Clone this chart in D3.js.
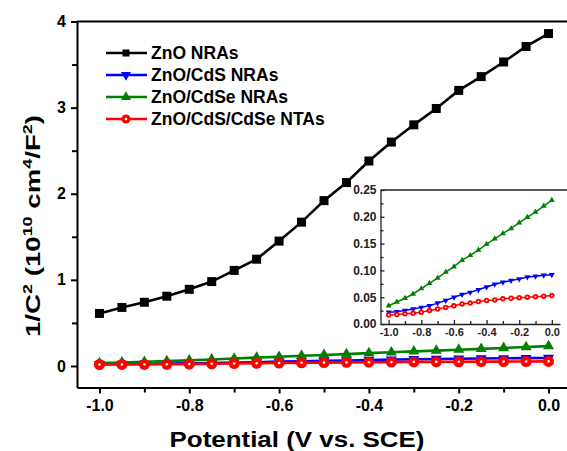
<!DOCTYPE html>
<html><head><meta charset="utf-8">
<script src="https://cdn.jsdelivr.net/npm/d3@7"></script>
<style>
body{margin:0;background:#fff}
text{font-family:Arial,"Liberation Sans",sans-serif;font-weight:bold}
</style>
</head><body><svg id="c" width="567" height="451"></svg>
<script>
const potential = [-1.0,-0.95,-0.9,-0.85,-0.8,-0.75,-0.7,-0.65,-0.6,-0.55,-0.5,-0.45,-0.4,-0.35,-0.3,-0.25,-0.2,-0.15,-0.1,-0.05,0.0];
const znoNRAs = [0.61,0.68,0.74,0.81,0.89,0.98,1.11,1.24,1.45,1.67,1.92,2.13,2.38,2.60,2.80,2.99,3.20,3.36,3.53,3.71,3.86];
const znoCdsNRAs = [0.022,0.023,0.025,0.028,0.031,0.034,0.039,0.044,0.050,0.055,0.059,0.064,0.069,0.074,0.078,0.081,0.084,0.0875,0.089,0.091,0.092];
const znoCdseNRAs = [0.034,0.041,0.048,0.056,0.066,0.076,0.086,0.097,0.107,0.119,0.128,0.138,0.149,0.159,0.169,0.178,0.189,0.199,0.209,0.220,0.231];
const znoCdsCdseNTAs = [0.017,0.0175,0.019,0.020,0.022,0.025,0.028,0.031,0.034,0.0375,0.039,0.042,0.044,0.045,0.047,0.048,0.049,0.050,0.051,0.052,0.053];
const seriesNames = ["ZnO NRAs","ZnO/CdS NRAs","ZnO/CdSe NRAs","ZnO/CdS/CdSe NTAs"];
const seriesColors = ["#000000","#0000ff","#008000","#ff0000"];
const seriesShapes = ["square","down","up","circle"];
const mainXTicks = [-1.0,-0.8,-0.6,-0.4,-0.2,0.0];
const mainXMinor = [-0.9,-0.7,-0.5,-0.3,-0.1];
const mainYTicks = [0,1,2,3,4];
const mainYMinor = [0.5,1.5,2.5,3.5];
const insetXTicks = [-1.0,-0.8,-0.6,-0.4,-0.2,0.0];
const insetXMinor = [-0.9,-0.7,-0.5,-0.3,-0.1];
const insetYTicks = [0,0.05,0.10,0.15,0.20,0.25];
const insetYMinor = [0.025,0.075,0.125,0.175,0.225];

const allSeries = [znoNRAs, znoCdsNRAs, znoCdseNRAs, znoCdsCdseNTAs].map((vals,i)=>({
  name: seriesNames[i], color: seriesColors[i], shape: seriesShapes[i],
  pts: potential.map((p,j)=>({x:p,y:vals[j]}))
}));

const svg = d3.select("#c");
const fmt1 = d => d.toFixed(1);
const fmt2 = d => d.toFixed(2);

function marker(g, shape, color, s, cx, cy, dot){
  if(shape==="square"){
    g.append("rect").attr("x",cx-s/2).attr("y",cy-s/2).attr("width",s).attr("height",s).attr("fill",color);
  } else if(shape==="up" || shape==="down"){
    const area = Math.sqrt(3)/4*s*s;
    g.append("path").attr("d",d3.symbol(d3.symbolTriangle,area)())
      .attr("transform",`translate(${cx},${cy})`+(shape==="down"?" rotate(180)":""))
      .attr("fill",color);
  } else {
    g.append("circle").attr("cx",cx).attr("cy",cy).attr("r",s/2).attr("fill",color);
    g.append("circle").attr("cx",cx).attr("cy",cy).attr("r",dot).attr("fill","#fff");
  }
}

// ---------- main chart ----------
const x = d3.scaleLinear().domain([-1.05,0.05]).range([77,571]);
const y = d3.scaleLinear().domain([-0.25,4]).range([387.5,21.5]);

const main = svg.append("g");
allSeries.forEach(s=>{
  const g = main.append("g");
  g.append("path").datum(s.pts)
    .attr("d",d3.line().x(d=>x(d.x)).y(d=>y(d.y)))
    .attr("fill","none").attr("stroke",s.color).attr("stroke-width",2.6);
  s.pts.forEach(p=>marker(g,s.shape,s.color,s.shape==="square"?9:11,x(p.x),y(p.y),1.3));
});

function styleAxis(g,w,col,fs){
  g.select(".domain").attr("stroke",col).attr("stroke-width",w);
  g.selectAll(".tick line").attr("stroke",col).attr("stroke-width",w);
  g.selectAll(".tick text").attr("fill",col).style("font-size",fs+"px").style("font-family",'Arial,"Liberation Sans",sans-serif').style("font-weight","bold");
}
// bottom axis
const xb = main.append("g").attr("transform",`translate(0,${y.range()[0]})`)
  .call(d3.axisBottom(x).tickValues(mainXTicks).tickFormat(fmt1).tickSize(6).tickPadding(6).tickSizeOuter(0));
styleAxis(xb,2,"#000",16);
main.append("g").attr("transform",`translate(0,${y.range()[0]})`)
  .call(d3.axisBottom(x).tickValues(mainXMinor).tickFormat("").tickSize(5).tickSizeOuter(0))
  .call(g=>{g.select(".domain").remove();g.selectAll("line").attr("stroke","#000").attr("stroke-width",2);});
// left axis
const yl = main.append("g").attr("transform",`translate(${x.range()[0]},0)`)
  .call(d3.axisLeft(y).tickValues(mainYTicks).tickFormat(d3.format("d")).tickSize(6).tickPadding(5).tickSizeOuter(0));
styleAxis(yl,2,"#000",16);
main.append("g").attr("transform",`translate(${x.range()[0]},0)`)
  .call(d3.axisLeft(y).tickValues(mainYMinor).tickFormat("").tickSize(5).tickSizeOuter(0))
  .call(g=>{g.select(".domain").remove();g.selectAll("line").attr("stroke","#000").attr("stroke-width",2);});
// top border
main.append("line").attr("x1",x.range()[0]).attr("x2",x.range()[1]).attr("y1",y.range()[1]).attr("y2",y.range()[1])
  .attr("stroke","#000").attr("stroke-width",2);

// axis titles
svg.append("text").attr("x",297).attr("y",447).attr("text-anchor","middle")
  .style("font-size","22px").attr("textLength",255).attr("lengthAdjust","spacingAndGlyphs")
  .text("Potential (V vs. SCE)");
const yt = svg.append("text").attr("transform","translate(40,226) rotate(-90)").attr("text-anchor","middle")
  .style("font-size","20px").attr("textLength",222).attr("lengthAdjust","spacingAndGlyphs");
yt.append("tspan").text("1/C");
yt.append("tspan").attr("dy",-8).style("font-size","13px").text("2");
yt.append("tspan").attr("dy",8).text(" (10");
yt.append("tspan").attr("dy",-8).style("font-size","13px").text("10");
yt.append("tspan").attr("dy",8).text(" cm");
yt.append("tspan").attr("dy",-8).style("font-size","13px").text("4");
yt.append("tspan").attr("dy",8).text("/F");
yt.append("tspan").attr("dy",-8).style("font-size","13px").text("2");
yt.append("tspan").attr("dy",8).text(")");

// legend
const leg = svg.append("g");
const legY = [53,75,97,119];
allSeries.forEach((s,i)=>{
  const g = leg.append("g");
  g.append("line").attr("x1",106).attr("x2",147).attr("y1",legY[i]).attr("y2",legY[i])
    .attr("stroke",s.color).attr("stroke-width",2.6);
  marker(g,s.shape,s.color,s.shape==="square"?7:(s.shape==="circle"?9:10),126,legY[i],1.3);
  g.append("text").attr("x",151).attr("y",legY[i]+6).style("font-size","17.5px").text(s.name);
});

// ---------- inset ----------
const ix = d3.scaleLinear().domain([-1.05,0.05]).range([380.5,560]);
const iy = d3.scaleLinear().domain([0,0.25]).range([324,190]);
const inset = svg.append("g");
inset.append("rect").attr("x",ix.range()[0]).attr("y",iy.range()[1])
  .attr("width",ix.range()[1]-ix.range()[0]).attr("height",iy.range()[0]-iy.range()[1]).attr("fill","#fff");
allSeries.slice(1).forEach(s=>{
  const g = inset.append("g");
  g.append("path").datum(s.pts)
    .attr("d",d3.line().x(d=>ix(d.x)).y(d=>iy(d.y)))
    .attr("fill","none").attr("stroke",s.color).attr("stroke-width",1.5);
  s.pts.forEach(p=>marker(g,s.shape,s.color,s.shape==="circle"?5.5:6,ix(p.x),iy(p.y),0.9));
});
const ixb = inset.append("g").attr("transform",`translate(0,${iy.range()[0]})`)
  .call(d3.axisBottom(ix).tickValues(insetXTicks).tickFormat(fmt1).tickSize(-4).tickPadding(4).tickSizeOuter(0));
styleAxis(ixb,1.3,"#222",11);
inset.append("g").attr("transform",`translate(0,${iy.range()[0]})`)
  .call(d3.axisBottom(ix).tickValues(insetXMinor).tickFormat("").tickSize(-3).tickSizeOuter(0))
  .call(g=>{g.select(".domain").remove();g.selectAll("line").attr("stroke","#222").attr("stroke-width",1.3);});
const iyl = inset.append("g").attr("transform",`translate(${ix.range()[0]},0)`)
  .call(d3.axisLeft(iy).tickValues(insetYTicks).tickFormat(fmt2).tickSize(-4).tickPadding(4).tickSizeOuter(0));
styleAxis(iyl,1.3,"#222",12);
inset.append("g").attr("transform",`translate(${ix.range()[0]},0)`)
  .call(d3.axisLeft(iy).tickValues(insetYMinor).tickFormat("").tickSize(-3).tickSizeOuter(0))
  .call(g=>{g.select(".domain").remove();g.selectAll("line").attr("stroke","#222").attr("stroke-width",1.3);});
inset.append("line").attr("x1",ix.range()[0]).attr("x2",567).attr("y1",iy.range()[1]).attr("y2",iy.range()[1])
  .attr("stroke","#222").attr("stroke-width",1.3);
</script>
</body></html>
